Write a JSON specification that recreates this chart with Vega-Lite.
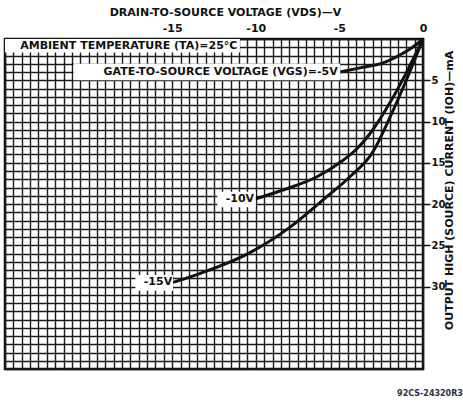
{
  "$schema": "https://vega.github.io/schema/vega-lite/v6.json",
  "autosize": {"type": "none"},
  "width": 418,
  "height": 330,
  "padding": {"left": 5, "top": 39, "right": 40, "bottom": 33},
  "background": "white",
  "title": {"text": "92CS-24320R3", "orient": "bottom", "anchor": "end", "offset": 16, "dx": 8, "fontSize": 8, "fontWeight": "bold", "color": "#2a3040", "font": "DejaVu Sans"},
  "config": {
    "view": {"stroke": "#111", "strokeWidth": 2.5},
    "font": "DejaVu Sans"
  },
  "datasets": {
    "curves": [
      {"vgs": "-5V", "V": -4.96, "I": 4.0},
      {"vgs": "-5V", "V": -3.77, "I": 3.5},
      {"vgs": "-5V", "V": -2.39, "I": 2.9},
      {"vgs": "-5V", "V": -1.38, "I": 1.94},
      {"vgs": "-5V", "V": -0.6, "I": 0.97},
      {"vgs": "-5V", "V": 0, "I": 0},
      {"vgs": "-10V", "V": -10.05, "I": 19.4},
      {"vgs": "-10V", "V": -8.37, "I": 18.3},
      {"vgs": "-10V", "V": -6.34, "I": 16.7},
      {"vgs": "-10V", "V": -4.78, "I": 14.7},
      {"vgs": "-10V", "V": -4.0, "I": 13.4},
      {"vgs": "-10V", "V": -3.0, "I": 11.0},
      {"vgs": "-10V", "V": -2.0, "I": 7.8},
      {"vgs": "-10V", "V": -1.0, "I": 4.1},
      {"vgs": "-10V", "V": 0, "I": 0},
      {"vgs": "-15V", "V": -14.95, "I": 29.5},
      {"vgs": "-15V", "V": -13.3, "I": 28.4},
      {"vgs": "-15V", "V": -10.35, "I": 25.9},
      {"vgs": "-15V", "V": -7.95, "I": 22.8},
      {"vgs": "-15V", "V": -5.98, "I": 19.5},
      {"vgs": "-15V", "V": -4.37, "I": 16.7},
      {"vgs": "-15V", "V": -3.0, "I": 13.7},
      {"vgs": "-15V", "V": -2.0, "I": 9.6},
      {"vgs": "-15V", "V": -1.0, "I": 5.0},
      {"vgs": "-15V", "V": 0, "I": 0}
    ],
    "labels": [
      {"text": "AMBIENT TEMPERATURE (TA)=25°C", "V": -11.1, "I": 0.8, "V0": -25, "V1": -10.95, "I0": 0, "I1": 1.65},
      {"text": "GATE-TO-SOURCE VOLTAGE (VGS)=-5V", "V": -5.1, "I": 4.0, "V0": -20.9, "V1": -4.95, "I0": 3.0, "I1": 5.0},
      {"text": "-10V", "V": -10.1, "I": 19.4, "V0": -12.3, "V1": -10.0, "I0": 18.5, "I1": 20.4},
      {"text": "-15V", "V": -15.0, "I": 29.5, "V0": -17.2, "V1": -14.95, "I0": 28.6, "I1": 30.5}
    ]
  },
  "layer": [
    {
      "data": {"name": "curves"},
      "mark": {"type": "line", "color": "#111", "strokeWidth": 3, "interpolate": "monotone"},
      "encoding": {
        "x": {
          "field": "V", "type": "quantitative",
          "scale": {"domain": [-25, 0], "nice": false, "zero": false},
          "axis": {
            "orient": "top",
            "title": "DRAIN-TO-SOURCE VOLTAGE (VDS)—V",
            "titleFont": "DejaVu Sans", "titleFontSize": 11, "titleFontWeight": "bold", "titleColor": "#111",
            "titlePadding": 5, "titleX": 220,
            "tickCount": 50,
            "grid": true, "gridColor": "#1a1a1a", "gridWidth": 1.4, "gridOpacity": 1,
            "ticks": false, "domain": false,
            "labelExpr": "datum.value % 5 === 0 && datum.value >= -15 ? '' + datum.value : ''",
            "labelFont": "DejaVu Sans", "labelFontSize": 11, "labelFontWeight": "bold", "labelColor": "#111",
            "labelPadding": 6, "labelOverlap": false, "labelFlush": false
          }
        },
        "y": {
          "field": "I", "type": "quantitative",
          "scale": {"domain": [0, 40], "nice": false, "zero": false, "reverse": true},
          "axis": {
            "orient": "right",
            "title": "OUTPUT HIGH (SOURCE) CURRENT (IOH)—mA",
            "titleFont": "DejaVu Sans", "titleFontSize": 11, "titleFontWeight": "bold", "titleColor": "#111",
            "titleAngle": 270, "titlePadding": 10, "titleY": 151,
            "tickCount": 40,
            "grid": true, "gridColor": "#1a1a1a", "gridWidth": 1.4, "gridOpacity": 1,
            "domain": false,
            "ticks": true, "tickSize": 7, "tickWidth": 1.5, "tickColor": "#111",
            "tickOpacity": {"condition": {"test": "datum.value % 5 === 0 && datum.value > 0 && datum.value <= 30", "value": 1}, "value": 0},
            "labelExpr": "datum.value % 5 === 0 && datum.value > 0 && datum.value <= 30 ? '' + datum.value : ''",
            "labelFont": "DejaVu Sans", "labelFontSize": 10, "labelFontWeight": "bold", "labelColor": "#111",
            "labelPadding": 1, "labelOverlap": false, "labelFlush": false
          }
        },
        "detail": {"field": "vgs", "type": "nominal"}
      }
    },
    {
      "data": {"name": "labels"},
      "mark": {"type": "rect", "fill": "white", "stroke": null},
      "encoding": {
        "x": {"field": "V0", "type": "quantitative"},
        "x2": {"field": "V1"},
        "y": {"field": "I0", "type": "quantitative"},
        "y2": {"field": "I1"}
      }
    },
    {
      "data": {"name": "labels"},
      "mark": {"type": "text", "align": "right", "baseline": "middle", "font": "DejaVu Sans", "fontSize": 11, "fontWeight": "bold", "color": "#111"},
      "encoding": {
        "x": {"field": "V", "type": "quantitative"},
        "y": {"field": "I", "type": "quantitative"},
        "text": {"field": "text"}
      }
    }
  ]
}
